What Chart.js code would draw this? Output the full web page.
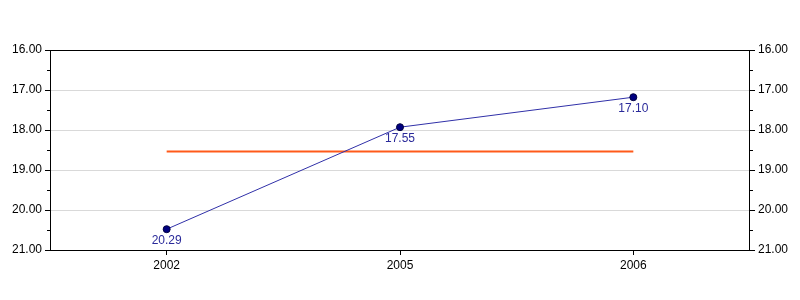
<!DOCTYPE html>
<html>
<head>
<meta charset="utf-8">
<script src="https://cdn.jsdelivr.net/npm/chart.js@4"></script>
<style>
  html, body { margin: 0; padding: 0; background: #fff; }
  #wrap { width: 800px; height: 300px; }
</style>
</head>
<body>
<div id="wrap"><canvas id="chart" width="800" height="300"></canvas></div>
<script>
// --- chart data ---
const years = ['2002', '2005', '2006'];
const values = [20.48, 17.93, 17.18];
const valueLabels = ['20.29', '17.55', '17.10'];
const average = [18.54, 18.54, 18.54];
const yMin = 16;
const yMax = 21;

const fontFamily = '"Liberation Sans", Arial, sans-serif';

// draws the black frame, the half-step ticks and the point labels
const extras = {
    id: 'extras',
    afterDraw(chart) {
        const ctx = chart.ctx;
        const a = chart.chartArea;
        const y = chart.scales.y;

        ctx.save();
        ctx.strokeStyle = '#000';
        ctx.lineWidth = 1;
        ctx.strokeRect(Math.round(a.left) + 0.5, Math.round(a.top) + 0.5,
            Math.round(a.right - a.left) - 1, Math.round(a.bottom - a.top));

        ctx.beginPath();
        for (let v = yMin + 0.5; v < yMax; v += 1) {
            const py = Math.round(y.getPixelForValue(v)) + 0.5;
            ctx.moveTo(a.left - 3, py);
            ctx.lineTo(a.left, py);
            ctx.moveTo(a.right, py);
            ctx.lineTo(a.right + 3, py);
        }
        ctx.stroke();

        const meta = chart.getDatasetMeta(0);
        ctx.fillStyle = '#2a2a9a';
        ctx.font = '12px ' + fontFamily;
        ctx.textAlign = 'center';
        ctx.textBaseline = 'top';
        meta.data.forEach((pt, i) => {
            ctx.fillText(valueLabels[i], pt.x, pt.y + 5);
        });
        ctx.restore();
    }
};

const gridColor = (c) => {
    const v = c.tick ? c.tick.value : null;
    if (v === null || v === yMin || v === yMax) return 'rgba(0,0,0,0)';
    return Number.isInteger(v) ? '#d9d9d9' : 'rgba(0,0,0,0)';
};
const tickColor = (c) => {
    const v = c.tick ? c.tick.value : null;
    return Number.isInteger(v) ? '#000' : 'rgba(0,0,0,0)';
};
const yTicks = {
    stepSize: 0.5,
    color: '#000',
    padding: 3,
    font: { size: 12, family: fontFamily },
    callback: (v) => Number.isInteger(v) ? v.toFixed(2) : ''
};

new Chart(document.getElementById('chart'), {
    type: 'line',
    data: {
        labels: years,
        datasets: [{
            data: values,
            borderColor: '#3030a8',
            borderWidth: 1,
            pointRadius: 3.5,
            pointBackgroundColor: '#000080',
            pointBorderColor: '#000040',
            pointBorderWidth: 1,
            tension: 0,
            yAxisID: 'y'
        }, {
            data: average,
            borderColor: '#ff5a1a',
            borderWidth: 2,
            pointRadius: 0,
            tension: 0,
            yAxisID: 'y'
        }]
    },
    options: {
        responsive: false,
        animation: false,
        layout: { padding: { top: 50, left: 0, right: 0, bottom: 0 } },
        plugins: {
            legend: { display: false },
            tooltip: { enabled: false }
        },
        scales: {
            x: {
                offset: true,
                grid: {
                    offset: false,
                    drawOnChartArea: false,
                    drawTicks: true,
                    tickLength: 5,
                    tickColor: '#000'
                },
                border: { display: false },
                ticks: {
                    color: '#000',
                    padding: 3,
                    font: { size: 12, family: fontFamily }
                },
                afterFit: (s) => { s.height = 50; }
            },
            y: {
                position: 'left',
                reverse: true,
                min: yMin,
                max: yMax,
                grid: { color: gridColor, tickColor: tickColor, tickLength: 5 },
                border: { display: false },
                ticks: yTicks,
                afterFit: (s) => { s.width = 50; }
            },
            y2: {
                position: 'right',
                reverse: true,
                min: yMin,
                max: yMax,
                grid: { drawOnChartArea: false, tickColor: tickColor, tickLength: 5 },
                border: { display: false },
                ticks: yTicks,
                afterFit: (s) => { s.width = 50; }
            }
        }
    },
    plugins: [extras]
});
</script>
</body>
</html>
